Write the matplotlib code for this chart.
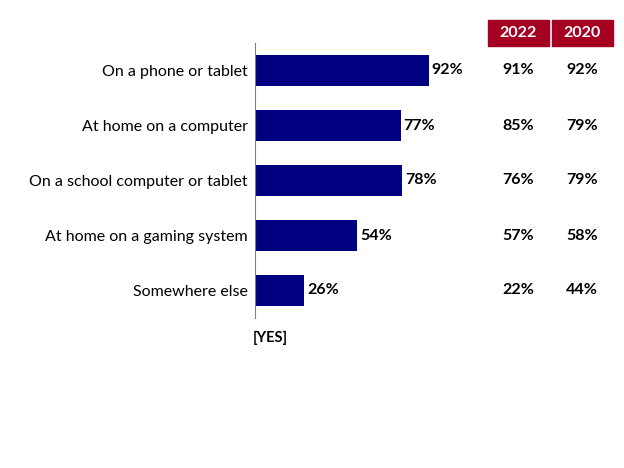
import matplotlib.pyplot as plt
from matplotlib.patches import Rectangle
from matplotlib.transforms import blended_transform_factory

plt.rcParams['font.family'] = ['Lato', 'DejaVu Sans']

categories = ["On a phone or tablet", "At home on a computer",
              "On a school computer or tablet", "At home on a gaming system",
              "Somewhere else"]
values = [92, 77, 78, 54, 26]
col_years = ["2022", "2020"]
vals_2022 = ["91%", "85%", "76%", "57%", "22%"]
vals_2020 = ["92%", "79%", "79%", "58%", "44%"]

navy = '#000080'
red = '#A50021'

fig = plt.figure(figsize=(6.24, 4.68), dpi=100)
# axis spans y 42..316 px, x starts at 255 px
ax = fig.add_axes([255/624, 1 - 318/468, 189/624, 275/468])

y = list(range(len(categories)))
ax.barh(y, values, height=0.56, color=navy)
ax.set_xlim(0, 100)
ax.set_ylim(len(categories) - 0.5, -0.5)
ax.set_yticks(y)
ax.set_yticklabels(categories, fontsize=11.5)
ax.tick_params(axis='y', length=0, pad=5)
ax.set_xticks([])
for s in ['top', 'right', 'bottom']:
    ax.spines[s].set_visible(False)
ax.spines['left'].set_color('#808080')

for yi, v in zip(y, values):
    ax.text(v + 1.5, yi, f"{v}%", va='center', ha='left', fontsize=11.5, fontweight='bold')

# right hand columns: x in figure coords, y in data coords
trans = blended_transform_factory(fig.transFigure, ax.transData)
col_x = [518/624, 582/624]
box_w = 61/624
for cx, year, col in zip(col_x, col_years, [vals_2022, vals_2020]):
    fig.patches.append(Rectangle((cx - box_w/2, 1 - 46/468), box_w, 26/468,
                                 transform=fig.transFigure, color=red))
    fig.text(cx, 1 - 33/468, year, ha='center', va='center', color='white',
             fontsize=11.5, fontweight='bold')
    for yi, t in zip(y, col):
        ax.text(cx, yi, t, transform=trans, ha='center', va='center',
                fontsize=11.5, fontweight='bold', clip_on=False)

fig.text(253/624, 1 - 338/468, "[YES]", ha='left', va='center', fontsize=10.5, fontweight='bold')

fig.savefig('out.png', dpi=100)
